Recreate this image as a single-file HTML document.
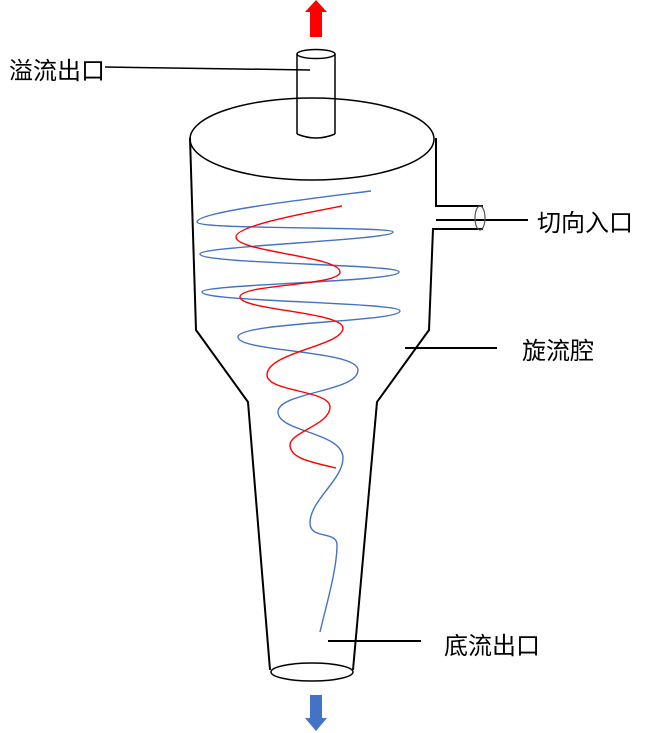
<!DOCTYPE html>
<html><head><meta charset="utf-8"><style>
html,body{margin:0;padding:0;background:#fff;}
svg{display:block;}
text{font-family:"Liberation Sans","Noto Sans CJK SC",sans-serif;font-size:24px;fill:#000;}
</style></head><body>
<svg width="655" height="733" viewBox="0 0 655 733" xmlns="http://www.w3.org/2000/svg">
<polygon points="316,0 327,12 322,12 322,37 310,37 310,12 305,12" fill="#ff0000"/>
<polygon points="310,695 322,695 322,718 327,718 316,731 305,718 310,718" fill="#4472c4"/>
<g fill="none" stroke="#000" stroke-width="1.5">
<ellipse cx="316" cy="54" rx="19" ry="4.5"/>
<line x1="297" y1="54" x2="297" y2="134"/>
<line x1="335" y1="54" x2="335" y2="134"/>
<path d="M297,134 Q316,142 335,134"/>
<ellipse cx="312" cy="139" rx="122" ry="41"/>
<polyline points="190,138 196,330 248,402 270,670" stroke-width="2"/>
<polyline points="436,138 436,206 483,206" stroke-width="2"/>
<polyline points="483,229 433,229 429,330 377,402 353,670" stroke-width="2"/>
<line x1="436" y1="220" x2="528" y2="220" stroke-width="2"/>
<ellipse cx="480" cy="218" rx="5" ry="12" stroke="#555" stroke-width="1.2"/>
<ellipse cx="312" cy="672" rx="41" ry="9"/>
<line x1="105" y1="67" x2="310" y2="70"/>
<line x1="405" y1="348" x2="497" y2="348" stroke-width="2"/>
<line x1="328" y1="641" x2="421" y2="641" stroke-width="2"/>
</g>
<path fill="none" stroke="#4472c4" stroke-width="1.4" d="M371,191 C300,200 197,212 197,222 C197,230 393,226 393,232 C393,240 200,246 200,254 C200,264 399,264 399,272 C399,282 202,284 202,292 C202,302 400,302 400,311 C400,322 238,322 238,337 C238,352 358,350 358,370 C358,392 278,392 278,412 C278,432 343,432 343,458 C343,480 310,500 310,523 C310,540 337,530 337,545 C337,570 325,610 320,632"/>
<path fill="none" stroke="#ff0000" stroke-width="1.4" d="M342,206 C300,214 236,226 236,237 C236,252 340,256 340,272 C340,286 240,284 240,297 C240,310 343,312 343,328 C343,346 267,352 267,375 C267,392 330,390 330,407 C330,425 290,432 290,445 C290,458 310,462 336,468"/>
<text x="9" y="79">溢流出口</text>
<text x="537" y="231">切向入口</text>
<text x="522" y="359">旋流腔</text>
<text x="444" y="654">底流出口</text>
</svg>
</body></html>
